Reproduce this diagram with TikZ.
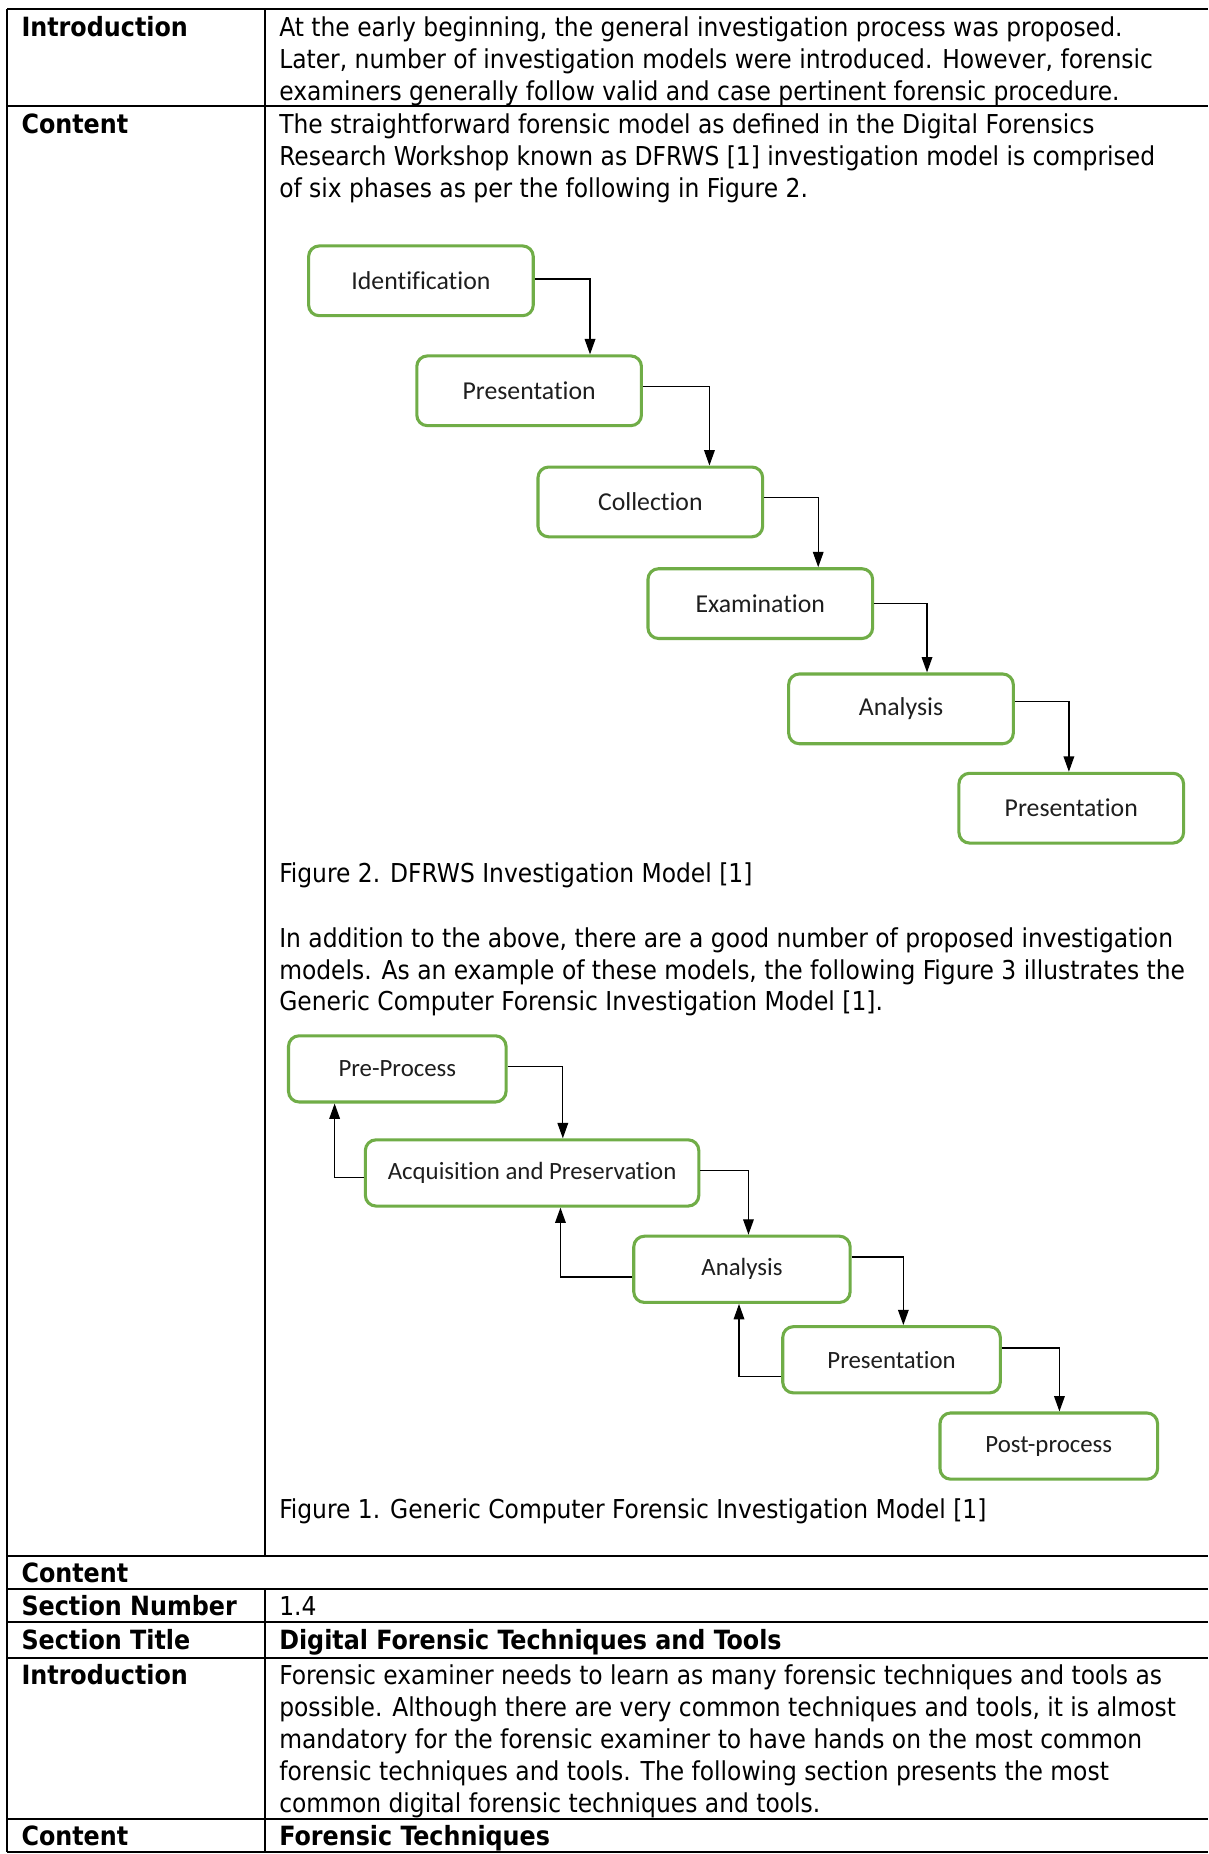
\documentclass[tikz,border=0pt]{standalone}
\usepackage{fontspec}
\setmainfont{DejaVu Sans Condensed}
\newfontfamily\calib{Carlito}[Ligatures={NoCommon}]
\usetikzlibrary{arrows.meta}
\definecolor{boxgreen}{RGB}{112,173,71}
\definecolor{boxtext}{RGB}{30,30,30}
\begin{document}
\begin{tikzpicture}[x=1pt,y=-1pt,
  tl/.style={anchor=base west, inner sep=0pt, font=\fontsize{22.0}{27}\selectfont},
  lbl/.style={anchor=base west, inner sep=0pt, font=\fontsize{22.4}{27}\selectfont\bfseries},
  grid/.style={line width=1.7pt, black},
  box/.style={draw=boxgreen, line width=2.6pt, rounded corners=9pt, fill=white, inner sep=0pt, text=boxtext},
  boxa/.style={box, minimum width=190pt, minimum height=59pt, font=\calib\fontsize{21.8}{24}\selectfont},
  boxb/.style={box, minimum height=56pt, font=\calib\fontsize{21.0}{24}\selectfont},
  arr/.style={line width=1.1pt, black, -{Triangle[length=13pt,width=9pt]}},
]
\useasboundingbox (0,0) rectangle (1022,1568);
\fill[white] (0,0) rectangle (1022,1568);

% table grid
\foreach \yy in {8,90,1316,1344,1372,1402,1538,1566}
  \draw[grid] (6,\yy) -- (1022,\yy);
\draw[grid] (6,8) -- (6,1566);
\draw[grid] (224,8) -- (224,1316);
\draw[grid] (224,1344) -- (224,1566);

% row 1
\node[lbl] (l1) at (18,31) {Introduction};
\node[tl] (t1a) at (236,31) {At the early beginning, the general investigation process was proposed.};
\node[tl] (t1b) at (236,58) {Later, number of investigation models were introduced. However, forensic};
\node[tl] (t1c) at (236,85) {examiners generally follow valid and case pertinent forensic procedure.};

% row 2
\node[lbl] (l2) at (18,113) {Content};
\node[tl] (t2a) at (236,113) {The straightforward forensic model as defined in the Digital Forensics};
\node[tl] (t2b) at (236,140) {Research Workshop known as DFRWS [1] investigation model is comprised};
\node[tl] (t2c) at (236,167) {of six phases as per the following in Figure 2.};

% figure 2
\node[boxa] (b1) at (356,237.5) {Identification};
\node[boxa] (b2) at (447.5,330.5) {Presentation};
\node[boxa] (b3) at (550,424.5) {Collection};
\node[boxa] (b4) at (643,510.5) {Examination};
\node[boxa] (b5) at (762,599.5) {Analysis};
\node[boxa] (b6) at (906,683.5) {Presentation};
\draw[arr] ([yshift=1.5pt]b1.east) -| ([xshift=51.5pt]b2.north);
\draw[arr] ([yshift=3.5pt]b2.east) -| ([xshift=50pt]b3.north);
\draw[arr] ([yshift=3.5pt]b3.east) -| ([xshift=49pt]b4.north);
\draw[arr] (b4.east) -| ([xshift=22pt]b5.north);
\draw[arr] ([yshift=6.5pt]b5.east) -| ([xshift=-2pt]b6.north);

\node[tl] (cap2) at (236,746) {Figure 2. DFRWS Investigation Model [1]};
\node[tl] (t3a) at (236,801) {In addition to the above, there are a good number of proposed investigation};
\node[tl] (t3b) at (236,828) {models. As an example of these models, the following Figure 3 illustrates the};
\node[tl] (t3c) at (236,855) {Generic Computer Forensic Investigation Model [1].};

% figure 3
\node[boxb, minimum width=184pt] (p1) at (336,904) {Pre-Process};
\node[boxb, minimum width=282pt] (p2) at (450,992) {Acquisition and Preservation};
\node[boxb, minimum width=183pt] (p3) at (627.5,1073.5) {Analysis};
\node[boxb, minimum width=184pt] (p4) at (754,1150) {Presentation};
\node[boxb, minimum width=184pt] (p5) at (887,1223) {Post-process};
\draw[arr] ([yshift=2pt]p1.east) -| ([xshift=26pt]p2.north);
\draw[arr] ([yshift=2pt]p2.east) -| ([xshift=5.5pt]p3.north);
\draw[arr] ([yshift=10.5pt]p3.east) -| ([xshift=10pt]p4.north);
\draw[arr] ([yshift=10pt]p4.east) -| ([xshift=9pt]p5.north);
\draw[arr] ([yshift=-4pt]p2.west) -| ([xshift=-53pt]p1.south);
\draw[arr] ([yshift=-6.5pt]p3.west) -| ([xshift=24pt]p2.south);
\draw[arr] ([yshift=-14pt]p4.west) -| ([xshift=-2.5pt]p3.south);

\node[tl] (cap3) at (236,1284) {Figure 1. Generic Computer Forensic Investigation Model [1]};

% lower rows
\node[lbl] (l3) at (18,1338) {Content};
\node[lbl] (l4) at (18,1366) {Section Number};
\node[tl] (t4) at (236,1366) {1.4};
\node[lbl] (l5) at (18,1395) {Section Title};
\node[lbl] (t5) at (236,1395) {Digital Forensic Techniques and Tools};
\node[lbl] (l6) at (18,1425) {Introduction};
\node[tl] (t6a) at (236,1425) {Forensic examiner needs to learn as many forensic techniques and tools as};
\node[tl] (t6b) at (236,1452) {possible. Although there are very common techniques and tools, it is almost};
\node[tl] (t6c) at (236,1479) {mandatory for the forensic examiner to have hands on the most common};
\node[tl] (t6d) at (236,1506) {forensic techniques and tools. The following section presents the most};
\node[tl] (t6e) at (236,1533) {common digital forensic techniques and tools.};
\node[lbl] (l7) at (18,1561) {Content};
\node[lbl] (t7) at (236,1561) {Forensic Techniques};
\end{tikzpicture}
\end{document}
